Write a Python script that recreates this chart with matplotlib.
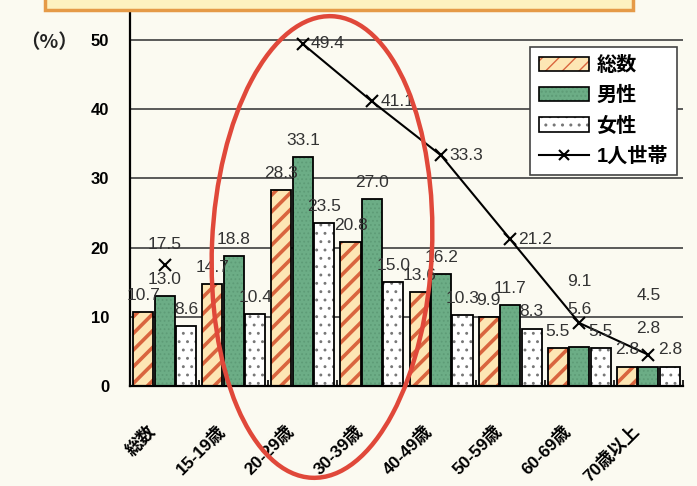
import matplotlib
matplotlib.use("Agg")

import matplotlib.pyplot as plt
import numpy as np
from matplotlib.patches import Ellipse, Rectangle, Patch
from matplotlib.lines import Line2D
from matplotlib.legend_handler import HandlerTuple
from matplotlib.transforms import ScaledTranslation

plt.rcParams['font.family'] = ['Liberation Sans', 'Noto Sans CJK JP', 'DejaVu Sans']

categories = ['総数', '15-19歳', '20-29歳', '30-39歳', '40-49歳', '50-59歳', '60-69歳', '70歳以上']
total = [10.7, 14.7, 28.3, 20.8, 13.6, 9.9, 5.5, 2.8]
male = [13.0, 18.8, 33.1, 27.0, 16.2, 11.7, 5.6, 2.8]
female = [8.6, 10.4, 23.5, 15.0, 10.3, 8.3, 5.5, 2.8]
# one-person households (no figure for 15-19)
single = [17.5, np.nan, 49.4, 41.1, 33.3, 21.2, 9.1, 4.5]

BG = '#fbfaf1'
HATCH_BG = '#fde6b4'
HATCH_FG = '#d9653e'
GREEN = '#6cad86'
TEXT = '#333333'


def hatch_lw(bars, lw):
    for b in bars:
        if hasattr(b, 'set_hatch_linewidth'):
            b.set_hatch_linewidth(lw)


fig = plt.figure(figsize=(6.97, 4.86), dpi=100, facecolor=BG)
ax = fig.add_axes([130 / 697, 1 - 386 / 486, 553 / 697, 376 / 486])
ax.set_facecolor(BG)

x = np.arange(len(categories))
w = 0.29
off = 0.31

# total: hatched stripes, black outline drawn separately on top
b1 = ax.bar(x - off, total, w, color=HATCH_BG, edgecolor=HATCH_FG, hatch='//', lw=0, zorder=2)
hatch_lw(b1, 2.6)
ax.bar(x - off, total, w, fill=False, edgecolor='black', lw=1.3, zorder=3)
# male: green with fine dots
b2 = ax.bar(x, male, w, color=GREEN, edgecolor='#5e9c77', hatch='....', lw=0, zorder=2)
hatch_lw(b2, 0.8)
ax.bar(x, male, w, fill=False, edgecolor='black', lw=1.3, zorder=3)
# female: white with sparse dots
b3 = ax.bar(x + off, female, w, color='white', edgecolor='#777777', hatch='..', lw=0, zorder=2)
hatch_lw(b3, 0.9)
ax.bar(x + off, female, w, fill=False, edgecolor='black', lw=1.3, zorder=3)

ax.plot(x, single, color='black', lw=1.5, marker='x', ms=8, mew=1.5, zorder=5)

lab = dict(fontsize=12.5, color=TEXT, ha='center', va='center', zorder=6)
for i in range(len(categories)):
    ax.text(x[i] - off, total[i] + 2.4, f'{total[i]:.1f}', **lab)
    lift = 2.4
    if abs(male[i] - total[i]) < 0.5 and abs(male[i] - female[i]) < 0.5:
        lift = 5.5
    ax.text(x[i], male[i] + lift, f'{male[i]:.1f}', **lab)
    ax.text(x[i] + off, female[i] + 2.4, f'{female[i]:.1f}', **lab)

# labels for the one-person line
single_pos = ['above', None, 'right', 'right', 'right', 'right', 'above', 'above']
single_dy = [3.0, 0, 0, 0, 0, 0, 6.0, 8.5]
for i, v in enumerate(single):
    if np.isnan(v):
        continue
    if single_pos[i] == 'right':
        ax.text(x[i] + 0.12, v, f'{v:.1f}', fontsize=12.5, color=TEXT,
                ha='left', va='center', zorder=6)
    else:
        ax.text(x[i], v + single_dy[i], f'{v:.1f}', fontsize=12.5, color=TEXT,
                ha='center', va='center', zorder=6)

ax.set_xlim(-0.5, len(categories) - 0.5)
ax.set_ylim(0, 54.3)
ax.set_yticks(range(0, 51, 10))
ax.yaxis.grid(True, color='#4d4d4d', lw=1.3, zorder=1)
ax.set_axisbelow(True)

for s in ['top', 'right']:
    ax.spines[s].set_visible(False)
ax.spines['left'].set_linewidth(1.6)
ax.spines['bottom'].set_linewidth(1.6)

ax.tick_params(axis='y', length=0, pad=15, labelsize=12)
for t in ax.get_yticklabels():
    t.set_fontweight('bold')

ax.set_xticks(x)
ax.set_xticklabels(categories, rotation=45, ha='right', fontsize=12.5, fontweight='bold')
ax.tick_params(axis='x', length=0, pad=26)
shift = ScaledTranslation(-4 / 72, 0, fig.dpi_scale_trans)
for t in ax.get_xticklabels():
    t.set_transform(t.get_transform() + shift)
ax.set_xticks(np.arange(-0.5, len(categories), 1.0), minor=True)
ax.tick_params(axis='x', which='minor', direction='in', length=4, width=1.2)

fig.text(20 / 697, 1 - 43 / 486, '（%）', fontsize=14, fontweight='bold',
         family=['Noto Sans CJK JP'], va='center', ha='left', color='#222222')

p1 = Patch(facecolor=HATCH_BG, edgecolor=HATCH_FG, hatch='//', lw=0)
p2 = Patch(facecolor=GREEN, edgecolor='#5e9c77', hatch='....', lw=0)
p3 = Patch(facecolor='white', edgecolor='#777777', hatch='..', lw=0)
hatch_lw([p1], 2.6)
hatch_lw([p2], 0.8)
hatch_lw([p3], 0.9)
outline = Patch(fill=False, edgecolor='black', lw=1.2)
handles = [(p1, outline), (p2, outline), (p3, outline),
           Line2D([], [], color='black', lw=1.5, marker='x', ms=7, mew=1.5)]
leg = ax.legend(handles, ['総数', '男性', '女性', '1人世帯'],
                handler_map={tuple: HandlerTuple(ndivide=1)},
                loc='upper right', bbox_to_anchor=(677 / 697, 1 - 47 / 486),
                bbox_transform=fig.transFigure, borderaxespad=0, frameon=True,
                fancybox=False, edgecolor='#444444', facecolor='white',
                framealpha=1, handlelength=2.5, handleheight=0.7,
                labelspacing=0.55, handletextpad=0.35, borderpad=0.45,
                prop={'family': ['Liberation Sans', 'Noto Sans CJK JP'],
                      'weight': 'bold', 'size': 14.5})
leg.get_frame().set_linewidth(1.2)
leg.set_zorder(7)

# banner box at the top
fig.add_artist(Rectangle((45 / 697, 1 - 10 / 486), 588 / 697, 0.05,
                         transform=fig.transFigure, facecolor='#fdf1c0',
                         edgecolor='#e59a48', lw=2.5, zorder=8))

# red ellipse around the 20s-30s columns
fig.add_artist(Ellipse((3.22, (486 - 247) / 100), 2.20, 4.62, angle=-2.5,
                       transform=fig.dpi_scale_trans, fill=False,
                       edgecolor='#e0483a', lw=3.2, zorder=9))

fig.savefig('out.png', dpi=100, facecolor=BG)
